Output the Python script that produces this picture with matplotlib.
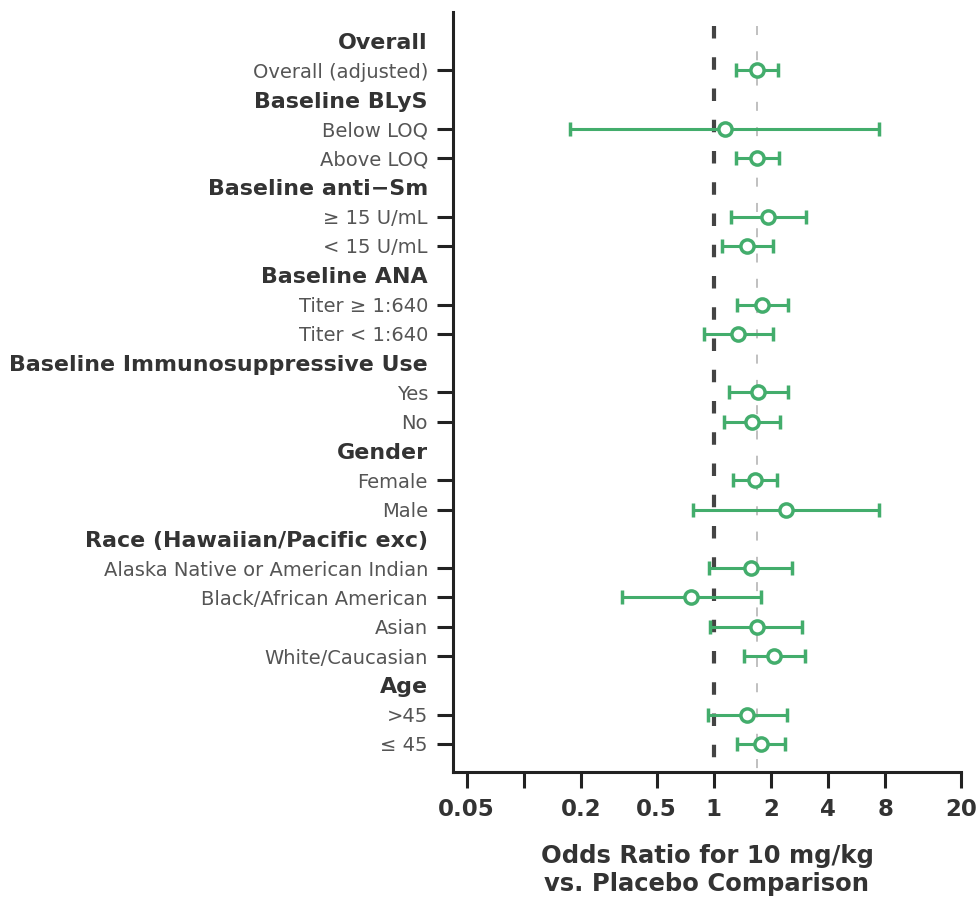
import numpy as np
import matplotlib
matplotlib.use('Agg')
import matplotlib.pyplot as plt

# rows top to bottom; headers have no estimate
labels = ['Overall', 'Overall (adjusted)',
          'Baseline BLyS', 'Below LOQ', 'Above LOQ',
          'Baseline anti\u2212Sm', '\u2265 15 U/mL', '< 15 U/mL',
          'Baseline ANA', 'Titer \u2265 1:640', 'Titer < 1:640',
          'Baseline Immunosuppressive Use', 'Yes', 'No',
          'Gender', 'Female', 'Male',
          'Race (Hawaiian/Pacific exc)', 'Alaska Native or American Indian',
          'Black/African American', 'Asian', 'White/Caucasian',
          'Age', '>45', '\u2264 45']
is_header = [1, 0, 1, 0, 0, 1, 0, 0, 1, 0, 0, 1, 0, 0, 1, 0, 0, 1, 0, 0, 0, 0, 1, 0, 0]

# odds ratio and 95% CI for each subgroup row (in order)
odds = [1.68, 1.14, 1.69, 1.93, 1.50, 1.80, 1.34, 1.71, 1.59, 1.65, 2.40,
        1.57, 0.756, 1.68, 2.07, 1.50, 1.77]
ci_low = [1.31, 0.176, 1.31, 1.23, 1.11, 1.32, 0.89, 1.20, 1.13, 1.27, 0.78,
          0.94, 0.329, 0.96, 1.44, 0.93, 1.33]
ci_high = [2.18, 7.39, 2.21, 3.05, 2.05, 2.46, 2.05, 2.46, 2.24, 2.16, 7.39,
           2.58, 1.77, 2.92, 3.01, 2.44, 2.37]
overall_ref = 1.68

x_ticks = [0.05, 0.1, 0.2, 0.5, 1, 2, 4, 8, 20]
x_ticklabels = ['0.05', '', '0.2', '0.5', '1', '2', '4', '8', '20']

green = '#43ad6c'
dark = '#333333'

fig = plt.figure(figsize=(9.76, 9.07), dpi=100)
ax = fig.add_axes([0.4641, 0.1488, 0.5205, 0.838])

ypos = np.arange(len(labels))
sub_y = ypos[np.array(is_header) == 0]

ax.vlines(1, -0.5, 25, colors='#444444', linestyles=(0, (3, 4.5)), lw=3, zorder=1)
ax.vlines(overall_ref, -0.5, 25, colors='#bbbbbb', linestyles=(0, (5, 9)), lw=1.3, zorder=1)

odds = np.array(odds)
err = [odds - np.array(ci_low), np.array(ci_high) - odds]
ax.errorbar(odds, sub_y, xerr=err, fmt='o', color=green, ecolor=green,
            elinewidth=2.2, capsize=5, capthick=2.2, ms=9.5, mfc='white',
            mec=green, mew=2.5, zorder=3)

ax.set_xscale('log')
ax.set_xlim(0.0424, 20)
ax.set_ylim(24.96, -0.99)
ax.set_xticks(x_ticks)
ax.set_xticklabels(x_ticklabels)
ax.xaxis.set_minor_locator(matplotlib.ticker.NullLocator())

ax.set_yticks(ypos)
ax.set_yticklabels(labels)
for tick, h in zip(ax.yaxis.get_major_ticks(), is_header):
    if h:
        tick.tick1line.set_visible(False)
        tick.label1.set_fontweight('bold')
        tick.label1.set_fontsize(15.9)
        tick.label1.set_color(dark)
    else:
        tick.label1.set_fontsize(14)
        tick.label1.set_color('#555555')

ax.tick_params(axis='y', length=11.5, width=2.2, pad=6.5, color='#222222')
ax.tick_params(axis='x', length=11.5, width=2.2, pad=7, color='#222222',
               labelsize=16.5, labelcolor=dark)
for t in ax.get_xticklabels():
    t.set_fontweight('bold')

for s in ['top', 'right']:
    ax.spines[s].set_visible(False)
for s in ['left', 'bottom']:
    ax.spines[s].set_linewidth(2.2)
    ax.spines[s].set_color('#222222')

ax.set_xlabel('Odds Ratio for 10 mg/kg\nvs. Placebo Comparison', fontsize=17.5,
              fontweight='bold', color=dark, labelpad=17, linespacing=1.2)

fig.savefig('out.png', dpi=100)
